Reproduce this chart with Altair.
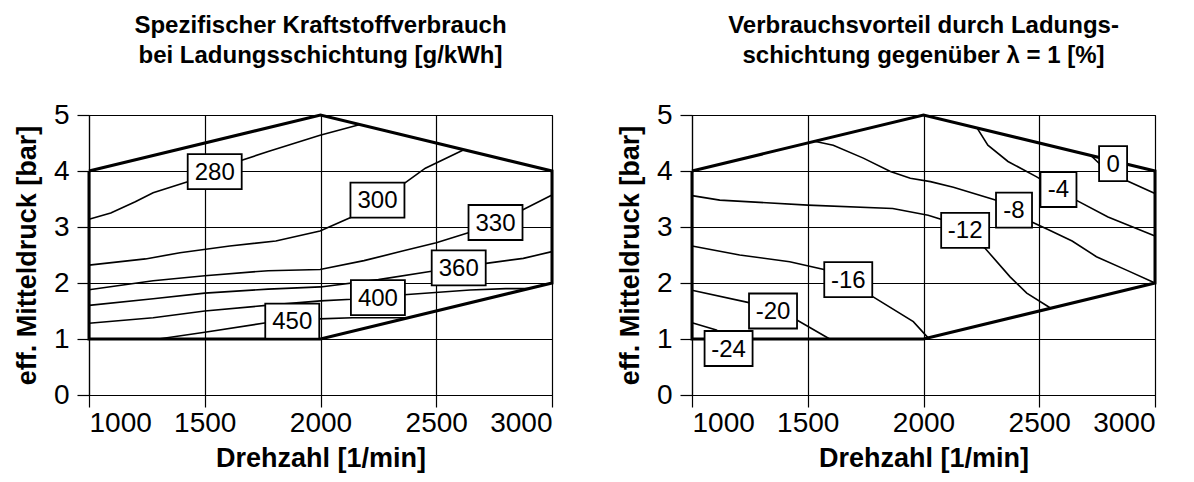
import altair as alt
import pandas as pd

FONT = "Liberation Sans"

X_TICKS = [1000, 1500, 2000, 2500, 3000]
Y_TICKS = [0, 1, 2, 3, 4, 5]

# operating-range boundary (same for both maps)
BOUND_X = [1000, 2000, 3000, 3000, 2000, 1000, 1000]
BOUND_Y = [4, 5, 4, 2, 1, 1, 4]

# ---------- left map: specific fuel consumption [g/kWh] ----------
C280_X = [1000, 1094, 1200, 1277, 1426, 1660, 1774, 1998, 2171]
C280_Y = [3.14, 3.25, 3.45, 3.61, 3.81, 4.19, 4.35, 4.64, 4.83]
C300_X = [1000, 1244, 1393, 1608, 1807, 1998, 2130, 2362, 2453, 2619]
C300_Y = [2.32, 2.43, 2.54, 2.66, 2.75, 2.93, 3.17, 3.78, 4.05, 4.38]
C330_X = [1000, 1277, 1500, 1774, 1998, 2188, 2354, 2500, 2642, 2870, 3000]
C330_Y = [1.88, 2.04, 2.13, 2.22, 2.24, 2.40, 2.57, 2.72, 2.90, 3.30, 3.57]
C360_X = [1000, 1277, 1500, 1774, 2000, 2250, 2480, 2715, 2876, 3000]
C360_Y = [1.60, 1.72, 1.82, 1.89, 1.93, 2.06, 2.21, 2.35, 2.44, 2.56]
C400_X = [1000, 1277, 1500, 1765, 2000, 2135, 2361, 2646, 2800, 2900]
C400_Y = [1.28, 1.38, 1.50, 1.60, 1.68, 1.71, 1.79, 1.875, 1.90, 1.90]
C450_X = [1000, 1300, 1500, 1765, 1994, 2138, 2380]
C450_Y = [1.00, 1.00, 1.12, 1.29, 1.36, 1.38, 1.38]

L_LABELS = ["280", "300", "330", "360", "400", "450"]
L_LABEL_X = [1543, 2246, 2756, 2597, 2248, 1878]
L_LABEL_Y = [3.99, 3.48, 3.08, 2.27, 1.74, 1.32]

# ---------- right map: consumption advantage [%] ----------
R24_X = [1000, 1105, 1160]
R24_Y = [1.29, 1.16, 1.00]
R20_X = [1000, 1246, 1453, 1595]
R20_Y = [1.87, 1.65, 1.34, 1.00]
R16_X = [1000, 1206, 1422, 1570, 1779, 1956, 2020]
R16_Y = [2.66, 2.50, 2.38, 2.24, 1.76, 1.31, 1.02]
R12_X = [1000, 1120, 1500, 1867, 2020, 2075, 2266, 2374, 2446, 2550]
R12_Y = [3.56, 3.48, 3.39, 3.33, 3.21, 3.14, 2.62, 2.11, 1.82, 1.55]
R8_X = [1529, 1610, 1740, 1857, 1943, 2030, 2129, 2314, 2468, 2540, 2642, 2747, 2877, 3000]
R8_Y = [4.53, 4.46, 4.23, 3.99, 3.87, 3.81, 3.71, 3.48, 3.09, 2.95, 2.75, 2.47, 2.23, 2.00]
R4_X = [2231, 2278, 2365, 2487, 2659, 2797, 3000]
R4_Y = [4.77, 4.46, 4.17, 3.90, 3.48, 3.18, 2.84]
R0_X = [2725, 2760, 2881, 3000]
R0_Y = [4.27, 4.13, 3.82, 3.60]

R_LABELS = ["-24", "-20", "-16", "-12", "-8", "-4", "0"]
R_LABEL_X = [1158, 1350, 1675, 2180, 2391, 2583, 2819]
R_LABEL_Y = [0.83, 1.50, 2.06, 2.94, 3.30, 3.67, 4.13]


def box_width(t):
    if len(t) == 1:
        return 28
    if len(t) == 2:
        return 36
    return 48 if t.startswith("-") else 54


def panel(contours, labels, lx, ly, title):
    rows = []
    for name, xs, ys in contours:
        for i, (a, b) in enumerate(zip(xs, ys)):
            rows.append({"c": name, "i": i, "x": a, "y": b})
    df = pd.DataFrame(rows)
    bdf = pd.DataFrame({"i": list(range(len(BOUND_X))), "x": BOUND_X, "y": BOUND_Y})
    ldf = pd.DataFrame({"t": labels, "x": lx, "y": ly})
    ldf["w"] = [box_width(t) for t in labels]

    xenc = alt.X("x:Q", scale=alt.Scale(domain=[1000, 3000], nice=False, zero=False),
                 axis=alt.Axis(values=X_TICKS, format="d", title="Drehzahl [1/min]",
                               labelPadding=2, titlePadding=8))
    yenc = alt.Y("y:Q", scale=alt.Scale(domain=[0, 5], nice=False, zero=False),
                 axis=alt.Axis(values=Y_TICKS, format="d", title="eff. Mitteldruck [bar]",
                               labelPadding=8, titlePadding=12))

    lines = alt.Chart(df).mark_line(color="black", strokeWidth=1.6).encode(
        x=xenc, y=yenc, detail="c:N", order="i:Q")
    bound = alt.Chart(bdf).mark_line(color="black", strokeWidth=3).encode(
        x=xenc, y=yenc, order="i:Q")
    layers = [lines, bound]
    for w in sorted(set(ldf["w"])):
        layers.append(alt.Chart(ldf[ldf["w"] == w]).mark_rect(
            width=w, height=35, fill="white", stroke="black", strokeWidth=1.8
        ).encode(x=xenc, y=yenc))
    text = alt.Chart(ldf).mark_text(fontSize=24, font=FONT, color="black", dy=1).encode(
        x=xenc, y=yenc, text="t:N")
    layers.append(text)
    return alt.layer(*layers).properties(
        width=463, height=280,
        title=alt.TitleParams(title, frame="group", anchor="middle", offset=33,
                              fontSize=24, fontWeight="bold", font=FONT,
                              lineHeight=30, color="black"))


left = panel(
    [("280", C280_X, C280_Y), ("300", C300_X, C300_Y), ("330", C330_X, C330_Y),
     ("360", C360_X, C360_Y), ("400", C400_X, C400_Y), ("450", C450_X, C450_Y)],
    L_LABELS, L_LABEL_X, L_LABEL_Y,
    ["Spezifischer Kraftstoffverbrauch", "bei Ladungsschichtung [g/kWh]"])

right = panel(
    [("-24", R24_X, R24_Y), ("-20", R20_X, R20_Y), ("-16", R16_X, R16_Y),
     ("-12", R12_X, R12_Y), ("-8", R8_X, R8_Y), ("-4", R4_X, R4_Y), ("0", R0_X, R0_Y)],
    R_LABELS, R_LABEL_X, R_LABEL_Y,
    ["Verbrauchsvorteil durch Ladungs-", "schichtung gegenüber λ = 1 [%]"])

chart = alt.hconcat(left, right, spacing=140, bounds="flush").properties(
    padding={"left": 12, "top": 13, "right": 5, "bottom": 5},
    background="white",
).configure_view(stroke="black", strokeWidth=1).configure_axis(
    domainColor="black", gridColor="black", tickColor="black",
    labelColor="black", titleColor="black", gridWidth=1.2, domainWidth=1.2,
    tickWidth=1.2, tickSize=12, labelFont=FONT, titleFont=FONT, labelFontSize=28,
    titleFontSize=27, titleFontWeight="bold", grid=True,
)

chart.save("out.html", embed_options={"renderer": "svg", "actions": False})
